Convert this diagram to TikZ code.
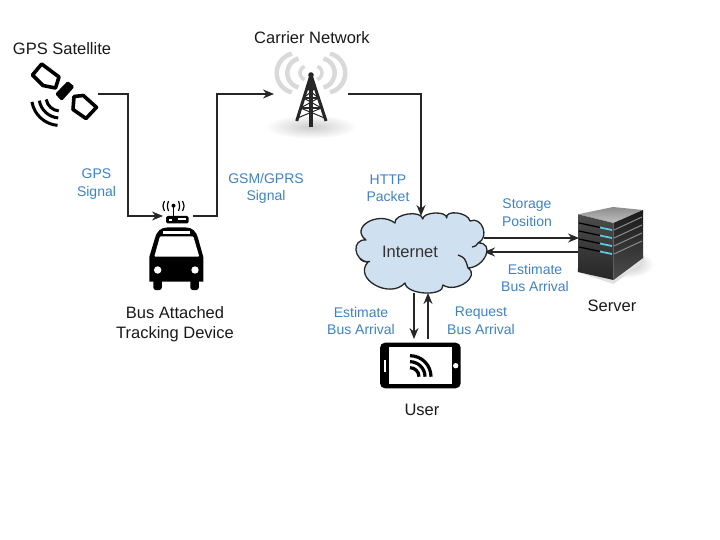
\documentclass[tikz,border=0pt]{standalone}
\usepackage{fontspec}
\setmainfont{Liberation Sans}
\usetikzlibrary{calc,arrows.meta}
\definecolor{signalblue}{HTML}{3E82C4}
\definecolor{cloudblue}{HTML}{CFE0F0}
\definecolor{serverteal}{HTML}{5FC8DC}
\tikzset{
  iconbox/.style={inner sep=0pt,outer sep=0pt},
  device/.style={font=\fontsize{16.5}{19.5}\selectfont,align=center,text=black!90},
  signal/.style={font=\fontsize{14}{17.5}\selectfont,align=center,text=signalblue},
  link/.style={line width=1.4pt,black!85},
  flow/.style={link,-{Stealth[length=11pt,width=9pt]}}
}
\begin{document}
\begin{tikzpicture}[x=1pt,y=-1pt]
\useasboundingbox (0,0) rectangle (720,540);
% anchor boxes of the icons
\node[iconbox,minimum width=68pt,minimum height=68pt] (satellite) at (64,94) {};
\node[iconbox,minimum width=30pt,minimum height=8pt] (tracker) at (178,216) {};
\node[iconbox,minimum width=74pt,minimum height=88pt] (tower) at (311,94) {};
\node[iconbox,minimum width=127pt,minimum height=77pt] (internet) at (420.5,254.5) {};
\node[iconbox,minimum width=64pt,minimum height=76pt] (server) at (611,245) {};
\node[iconbox,minimum width=81pt,minimum height=53pt] (phone) at (420.5,365.5) {};
\coordinate (turnsat) at (128,150);
\coordinate (turnbus) at (217,150);
\coordinate (turnnet) at (421,150);
\coordinate (storeline) at (530,238);
\coordinate (arrivalline) at (530,252);
\coordinate (downline) at (414,316);
\coordinate (upline) at (428,316);

% connectors
\draw[flow] (satellite.east) -| (turnsat) |- (tracker.west);
\draw[flow] (tracker.east) -| (turnbus) |- (tower.west);
\draw[flow] (tower.east) -| (turnnet) -- (turnnet |- internet.north);
\draw[flow] (storeline -| internet.east) -- (storeline -| server.west);
\draw[flow] (arrivalline -| server.west) -- (arrivalline -| internet.east);
\draw[flow] (downline |- internet.south) -- (downline |- phone.north);
\draw[flow] (upline |- phone.north) -- (upline |- internet.south);

% satellite
\draw[line width=3.6pt,line join=round,fill=white] (41.7,64) -- (59,77) -- (55.5,88) -- (43,85.5) -- (32.5,75) -- cycle;
\draw[line width=3.6pt,line join=round,fill=white] (74,96.5) -- (83.3,95.5) -- (96.5,107.3) -- (86,118.5) -- (73,109.5) -- cycle;
\fill[black,rounded corners=1.5pt] (67.7,81) -- (74.5,86.7) -- (61.7,101) -- (55.2,94) -- cycle;
\foreach \r in {14,21,28.5}
{       \draw[line width=3pt] (60,97)+(95:\r) arc[start angle=95,end angle=170,radius=\r];
}

% bus with tracking device
\fill[black,rounded corners=1.5pt] (166,216) rectangle (188.5,223.5);
\fill[white] (169,219) rectangle (172,221);
\fill[white] (178,218) rectangle (186,220);
\draw[line width=1.4pt] (173.5,206) -- (173.5,216);
\fill (173.5,205.7) circle (2);
\foreach \d/\b in {5/1.5,9/2}
{       \draw[line width=1.2pt] (173.5-\d,201) .. controls (173.5-\d-\b,206) .. (173.5-\d,211);
        \draw[line width=1.2pt] (173.5+\d,201) .. controls (173.5+\d+\b,206) .. (173.5+\d,211);
}
\fill[black] (149.3,281.7) -- (149.3,257) -- (155,238) .. controls (157,231) and (161,227.5) .. (167,227.5)
  -- (186,227.5) .. controls (192,227.5) and (196,231) .. (198,238) -- (203.3,257) -- (203.3,281.7) -- cycle;
\fill[white,rounded corners=1pt] (160,236.3) -- (193.3,236.3) -- (199.3,256.7) -- (154.3,256.7) -- cycle;
\fill[white] (163.3,230.7) rectangle (190,234);
\foreach \x in {157.7,195}
{       \fill[white] (\x,270) circle (3.7);
}
\foreach \x in {153.3,190.3}
{       \fill[black,rounded corners=2.5pt] (\x,278) rectangle (\x+8.5,290);
}

% radio tower
\shade[inner color=black!20,outer color=white] (311,126.7) ellipse (46 and 12);
\foreach \r/\d/\s/\w in {7/4/70/3.5,15/8.7/75/4.5,20/14.3/76/4.5}
{       \draw[black!15,line width=\w pt] (311-\d,73)+(180-\s:\r) arc[start angle=180-\s,end angle=180+\s,radius=\r];
        \draw[black!15,line width=\w pt] (311+\d,73)+(-\s:\r) arc[start angle=-\s,end angle=\s,radius=\r];
}
\draw[line width=3pt,black!85,line join=round] (296.7,121) -- (311,75) -- (326,121);
\draw[line width=3.6pt,black!85] (311,75) -- (311,127);
\foreach \y/\d in {88/4.5,98/7.5,108/10.5}
{       \draw[line width=1.6pt,black!85] (311-\d,\y) -- (311+\d,\y);
        \draw[line width=1pt,black!85] (311-\d,\y) -- (311+\d+3,\y+10);
        \draw[line width=1pt,black!85] (311+\d,\y) -- (311-\d-3,\y+10);
}
\fill[black!85] (311,75) circle (2.8);

% cloud
\draw[line width=1.3pt,black!85,fill=cloudblue,line join=round]
  (422.7,219) .. controls (423.1,211.7) and (447.1,210.7) .. (446.7,218)
  .. controls (445,209.3) and (468.3,212.3) .. (470,221)
  .. controls (482,215.7) and (490,237.7) .. (478,243)
  .. controls (495.3,242.3) and (485.3,267.3) .. (468,268)
  .. controls (480.7,276.7) and (455.7,293.7) .. (443,285)
  .. controls (444.3,297) and (406.3,295) .. (405,283)
  .. controls (389.7,299.7) and (352.7,278.7) .. (368,262)
  .. controls (353.3,260.7) and (351.3,238.7) .. (366,240)
  .. controls (349.3,227.3) and (378.3,210.3) .. (395,223)
  .. controls (393.7,213.7) and (421.4,209.7) .. cycle;
\draw[line width=1.3pt,black!85] (458,255) .. controls (465,258) .. (468,268);
\draw[line width=1.3pt,black!85] (478,243) .. controls (476,246) .. (472,247);
\draw[line width=1.3pt,black!85] (360,259) .. controls (364,262) .. (370,261.5);
\node[device,text=black!80] (internetlabel) at (410,252) {Internet};

% server
\shade[inner color=black!25,outer color=white] (628,264) ellipse (26 and 14);
\fill[black!12] (577,272) -- (613.5,284) -- (644,262) -- (644,256) -- (613.5,278) -- (577,268) -- cycle;
\shade[top color=black!45,bottom color=black!25] (578,214.3) -- (613,207) -- (643,210) -- (613.5,223) -- cycle;
\shade[top color=black!70,bottom color=black!85] (578,214.3) -- (613.5,223) -- (613.5,280) -- (578,272) -- cycle;
\shade[top color=black!90,bottom color=black!70] (613.5,223) -- (643,210) -- (643,258) -- (613.5,280) -- cycle;
\foreach \y in {0,8,16,24}
{       \draw[black,line width=1.3pt] (579,223+\y) -- (612,230+\y);
        \draw[serverteal,line width=1.8pt] (600,227.5+\y) -- (612,230+\y);
        \draw[black!45,line width=1pt] (614,230+\y) -- (642,217+\y);
}

% phone
\fill[black,rounded corners=5pt] (380,342.7) rectangle (460.7,388.3);
\fill[white] (389.3,346.7) rectangle (451.7,384.3);
\fill[white] (384,360) rectangle (386,371.7);
\fill[white] (455.7,365.7) circle (2.7);
\foreach \r in {9,15,21}
{       \draw[line width=3.2pt] (410,376.7)+(-90:\r) arc[start angle=-90,end angle=0,radius=\r];
}

% labels
\node[device] (satlabel) at (62,49) {GPS Satellite};
\node[device] (towerlabel) at (312,38) {Carrier Network};
\node[device] (buslabel) at (175,324) {Bus Attached\\Tracking Device};
\node[device] (serverlabel) at (612,306) {Server};
\node[device] (userlabel) at (422,409.5) {User};
\node[signal] (gpslabel) at (96.5,184) {GPS\\Signal};
\node[signal] (gsmlabel) at (266,188.5) {GSM/GPRS\\Signal};
\node[signal] (httplabel) at (388,188.5) {HTTP\\Packet};
\node[signal] (storelabel) at (527,212.5) {Storage\\Position};
\node[signal] (arrivalone) at (535,278) {Estimate\\Bus Arrival};
\node[signal] (arrivaltwo) at (361,321) {Estimate\\Bus Arrival};
\node[signal] (requestlabel) at (481,321) {Request\\Bus Arrival};
\end{tikzpicture}
\end{document}
